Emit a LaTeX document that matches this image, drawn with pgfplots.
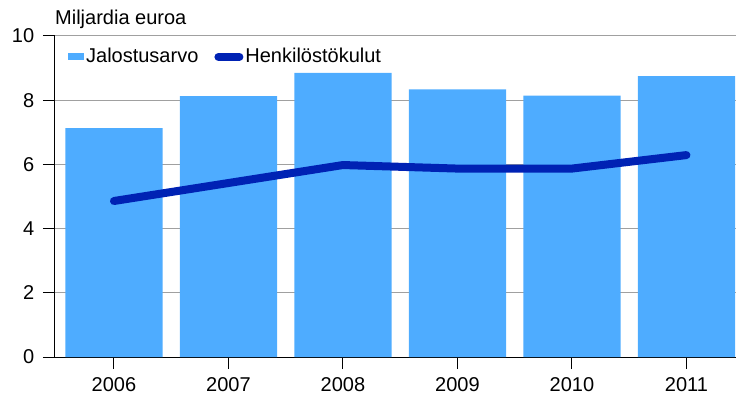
\documentclass[border=0pt]{standalone}
\usepackage{pgfplots}
\pgfplotsset{compat=1.18}
\usepackage{fontspec}
\setmainfont{Liberation Sans}
\definecolor{barblue}{RGB}{78,172,255}
\definecolor{lineblue}{RGB}{0,34,180}
\definecolor{gridgray}{RGB}{160,160,160}
\begin{document}
\fontsize{20bp}{24bp}\selectfont
\begin{tikzpicture}
\path[use as bounding box] (-55bp,-44bp) rectangle (681bp,357bp);
\begin{axis}[
  at={(0,0)}, anchor=south west,
  scale only axis, width=681bp, height=321bp,
  xmin=-0.515, xmax=5.433, ymin=0, ymax=10,
  ytick={0,2,...,10}, xtick={0,...,5},
  xticklabels={2006,2007,2008,2009,2010,2011},
  /pgf/number format/assume math mode=true,
  axis lines*=left,
  axis line style={black, line width=1bp},
  tick style={black, line width=1bp},
  tick align=outside, major tick length=12bp,
  ymajorgrids, grid style={gridgray, line width=1bp},
  yticklabel style={xshift=-2bp},
  xticklabel style={yshift=-2bp},
  clip=false,
  legend columns=2,
  legend style={draw=none, fill=none, at={(0.019,0.935)}, anchor=west,
    inner sep=0pt, nodes={inner sep=2bp},
    /tikz/every even column/.append style={column sep=14bp}},
]
\addplot[ybar, bar width=0.85, fill=barblue, draw=none,
  legend image code/.code={\fill[barblue] (0bp,-3.5bp) rectangle (16bp,3.5bp);}]
  coordinates {(0,7.13) (1,8.13) (2,8.85) (3,8.34) (4,8.14) (5,8.75)};
\addlegendentry{Jalostusarvo}
\addplot[lineblue, line width=8bp, line cap=round, line join=round, mark=none,
  legend image code/.code={\draw[lineblue, line width=8bp, line cap=round] (4bp,0bp) -- (25bp,0bp);}]
  coordinates {(0,4.86) (1,5.42) (2,5.98) (3,5.87) (4,5.87) (5,6.29)};
\addlegendentry{Henkilöstökulut}
\node[anchor=base west, inner sep=0pt, yshift=11bp] at (rel axis cs:0,1) {Miljardia euroa};
\end{axis}
\end{tikzpicture}
\end{document}
